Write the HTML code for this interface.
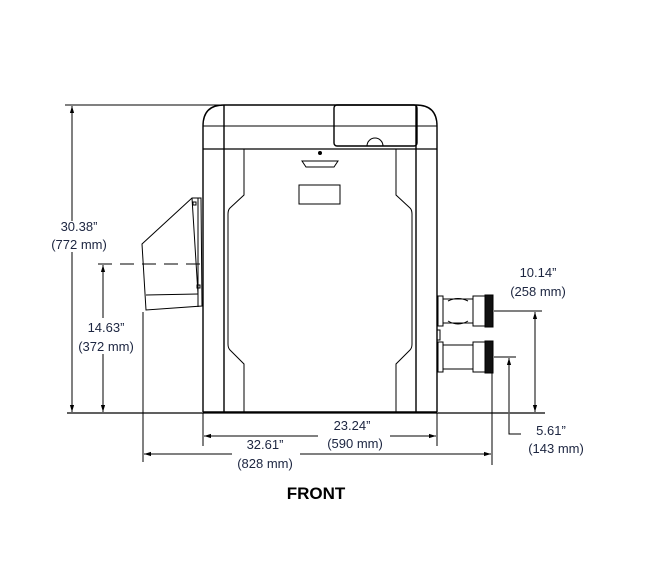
<!DOCTYPE html>
<html><head><style>
html,body{margin:0;padding:0;background:#fff;}
svg{display:block;}
text{font-family:"Liberation Sans",Arial,sans-serif;font-size:13px;fill:#1c2540;text-anchor:middle;}
</style></head><body>
<svg width="666" height="583" viewBox="0 0 666 583" xmlns="http://www.w3.org/2000/svg">
<defs>
<marker id="a" viewBox="0 0 10 10" refX="10" refY="5" markerWidth="7" markerHeight="7" orient="auto-start-reverse"><path d="M0,2 L10,5 L0,8 z" fill="#000"/></marker>
</defs>
<g stroke="#000" fill="none" stroke-width="1">
<!-- extension lines -->
<line x1="65" y1="105" x2="222" y2="105"/>
<line x1="67" y1="413" x2="545" y2="413" stroke-width="1.2"/>
<line x1="98" y1="264" x2="200" y2="264" stroke-dasharray="14,8"/>
<!-- vertical dims -->
<line x1="72" y1="106" x2="72" y2="221" marker-start="url(#a)"/>
<line x1="72" y1="252" x2="72" y2="412" marker-end="url(#a)"/>
<line x1="103" y1="265" x2="103" y2="318" marker-start="url(#a)"/>
<line x1="103" y1="354" x2="103" y2="412" marker-end="url(#a)"/>
<!-- cabinet -->
<path d="M203,412 V126 Q203,105 224,105 H416 Q437,105 437,126 V412" stroke-width="1.4"/>
<line x1="203" y1="126" x2="437" y2="126"/>
<line x1="203" y1="149" x2="437" y2="149" stroke-width="1.2"/>
<line x1="224" y1="105" x2="224" y2="412" stroke-width="1.4"/>
<line x1="416" y1="105" x2="416" y2="412" stroke-width="1.4"/>
<line x1="203" y1="412" x2="437" y2="412" stroke-width="1.6"/>
<path d="M244,149 V195 L230,208 Q228,210 228,214 V344 Q228,348 230,350 L244,364 V412"/>
<path d="M396,149 V195 L410,208 Q412,210 412,214 V344 Q412,348 410,350 L396,364 V412"/>
<rect x="334" y="105" width="83" height="41" rx="3" stroke-width="1.4"/>
<path d="M367,146 A8,8 0 0 1 383,146"/>
<circle cx="320" cy="153" r="1.5" fill="#000"/>
<path d="M302,161 H338 L334,167 H306 Z"/>
<rect x="299" y="185" width="41" height="19"/>
<!-- vent -->
<path d="M142,244 L192,198 H201 L202,306 L146,310 Z"/>
<line x1="192" y1="198" x2="198" y2="294"/>
<line x1="146" y1="295" x2="198" y2="294"/>
<line x1="198" y1="198" x2="198" y2="307"/>
<rect x="193" y="202" width="3" height="3"/>
<rect x="197" y="285" width="3" height="3"/>
<!-- fittings -->
<g stroke-width="1">
<rect x="438" y="296" width="5" height="30"/>
<rect x="443" y="299" width="30" height="24"/>
<rect x="473" y="296" width="12" height="30"/>
<rect x="485" y="295" width="8" height="32" fill="#111"/>
<path d="M448,301 Q458,296 468,301 M448,321 Q458,327 468,321"/>
<rect x="437" y="330" width="3" height="10"/>
<rect x="438" y="342" width="5" height="30"/>
<rect x="443" y="345" width="30" height="24"/>
<rect x="473" y="342" width="12" height="30"/>
<rect x="485" y="341" width="8" height="32" fill="#111"/>
</g>
<!-- right dims -->
<line x1="494" y1="311" x2="542" y2="311"/>
<line x1="535" y1="312" x2="535" y2="412" marker-start="url(#a)" marker-end="url(#a)"/>
<line x1="494" y1="357" x2="516" y2="357"/>
<line x1="509" y1="358" x2="509" y2="412" marker-start="url(#a)"/>
<polyline points="509,414 509,434 521,434"/>
<!-- bottom dims -->
<line x1="143" y1="312" x2="143" y2="462"/>
<line x1="203" y1="413" x2="203" y2="446"/>
<line x1="437" y1="413" x2="437" y2="446"/>
<line x1="492" y1="372" x2="492" y2="465"/>
<line x1="204" y1="436" x2="318" y2="436" marker-start="url(#a)"/>
<line x1="390" y1="436" x2="436" y2="436" marker-end="url(#a)"/>
<line x1="144" y1="454" x2="232" y2="454" marker-start="url(#a)"/>
<line x1="300" y1="454" x2="491" y2="454" marker-end="url(#a)"/>
</g>
<text x="79" y="231">30.38”</text>
<text x="79" y="249">(772 mm)</text>
<text x="106" y="332">14.63”</text>
<text x="106" y="351">(372 mm)</text>
<text x="538" y="277">10.14”</text>
<text x="538" y="296">(258 mm)</text>
<text x="551" y="435">5.61”</text>
<text x="556" y="453">(143 mm)</text>
<text x="352" y="430">23.24”</text>
<text x="355" y="448">(590 mm)</text>
<text x="265" y="449">32.61”</text>
<text x="265" y="468">(828 mm)</text>
<text x="316" y="499" style="font-size:17px;font-weight:bold;fill:#000">FRONT</text>
</svg>
</body></html>
